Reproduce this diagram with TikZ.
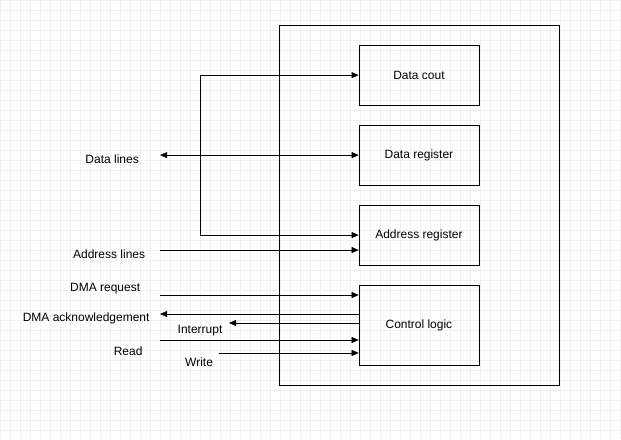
\documentclass[tikz,border=0pt]{standalone}
\usepackage{fontspec}
\setmainfont{Liberation Sans}
\usetikzlibrary{arrows.meta}
\begin{document}
\begin{tikzpicture}[x=1pt,y=-1pt,
  box/.style={draw,semithick,minimum width=120pt,minimum height=60pt,inner sep=0pt,font=\fontsize{12}{14}\selectfont},
  lab/.style={font=\fontsize{12}{14}\selectfont,inner sep=0pt},
  con/.style={semithick,-{Triangle[length=7pt,width=6pt]}}]
\fill[white] (0,0) rectangle (621,439);
\draw[gray!12,step=10pt] (0,0) grid (621,439);
\useasboundingbox (0,0) rectangle (621,439);
\draw[semithick] (279,25) rectangle (559,385);
\node[box] (dc) at (419,75) {Data cout};
\node[box] (dr) at (419,155) {Data register};
\node[box] (ar) at (419,235) {Address register};
\node[box,minimum height=80pt] (cl) at (419,325) {Control logic};
\coordinate (dl) at (160,155);
\node[lab] (tdl) at (112,159) {Data lines};
\node[lab] (tal) at (109,254) {Address lines};
\node[lab] (tdr) at (105,289) {DMA request};
\node[lab] (tda) at (86,318) {DMA acknowledgement};
\node[lab] (tin) at (200,331) {Interrupt};
\node[lab] (trd) at (128,351) {Read};
\node[lab] (twr) at (199,362) {Write};
\draw[semithick,{Triangle[length=7pt,width=6pt]}-{Triangle[length=7pt,width=6pt]}] (dl) -- (dr.west);
\draw[con] (200,235) |- (dc.west);
\draw[con] (200,235) -- (ar.west |- 0,235);
\draw[con] (160,250) -- (ar.west |- 0,250);
\draw[con] (160,295) -- (cl.west |- 0,295);
\draw[con] (cl.west |- 0,314) -- (160,314);
\draw[con] (cl.west |- 0,323) -- (229,323);
\draw[con] (160,340) -- (cl.west |- 0,340);
\draw[con] (219,353) -- (cl.west |- 0,353);
\end{tikzpicture}
\end{document}
